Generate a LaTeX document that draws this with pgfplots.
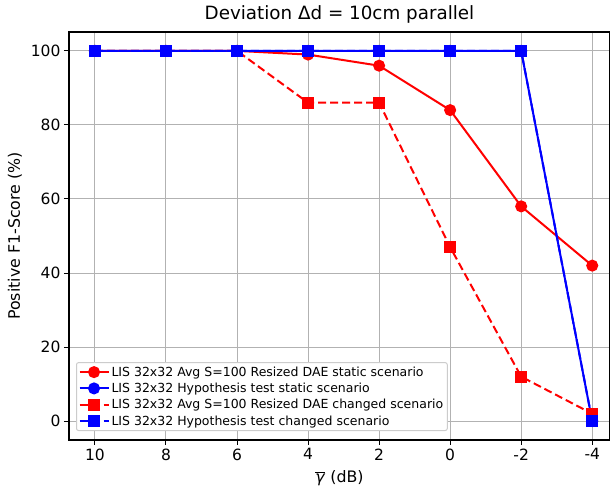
\documentclass[border=0pt]{standalone}
\usepackage{pgfplots}
\pgfplotsset{compat=1.18}
\usepackage{fontspec}
\setmainfont{DejaVu Sans}
\begin{document}
\begin{tikzpicture}
\begin{axis}[
  name=ax,
  width=541pt, height=408pt, scale only axis,
  x dir=reverse,
  xmin=-4.5, xmax=10.73, ymin=-5.1, ymax=105.1,
  xtick={10,8,6,4,2,0,-2,-4},
  ytick={0,20,40,60,80,100},
  grid=major, major grid style={gray!60, line width=1pt},
  tick align=outside, tick pos=left,
  major tick length=5pt,
  tick style={black, line width=1pt},
  axis line style={black, line width=1.1pt},
  /pgf/number format/assume math mode=true,
  ticklabel style={font=\fontsize{15.5}{17}\selectfont},
  title={Deviation Δd = 10cm parallel},
  title style={font=\fontsize{18.3}{20}\selectfont, at={(axis description cs:0.5,1.017)}, anchor=base},
  xlabel={$\overline{\mbox{\textit{γ}}}$ (dB)},
  ylabel={Positive F1-Score (\%)},
  every axis x label/.style={at={(axis description cs:0.5,-0.094)}, anchor=center},
  every axis y label/.style={at={(axis description cs:-0.1,0.5)}, rotate=90, anchor=center},
  label style={font=\fontsize{15.8}{18}\selectfont},
  legend cell align=left,
  legend style={at={(0.013,0.022)}, anchor=south west, font=\fontsize{12.5}{14}\selectfont, draw=gray!40, line width=1pt, rounded corners=2pt, row sep=1.3pt, inner sep=2pt},
  legend image code/.code={\draw[mark repeat=2,mark phase=2, line width=2pt] plot coordinates {(0pt,0pt) (14.5pt,0pt) (29pt,0pt)};},
]
\addplot[red, solid, line width=2pt, mark=*, mark size=5pt] coordinates {(10,100)(8,100)(6,100)(4,99)(2,96)(0,84)(-2,58)(-4,42)};
\addlegendentry{LIS 32x32 Avg S=100 Resized DAE static scenario}
\addplot[blue, solid, line width=2pt, mark=*, mark size=5pt] coordinates {(10,100)(8,100)(6,100)(4,100)(2,100)(0,100)(-2,100)(-4,0)};
\addlegendentry{LIS 32x32 Hypothesis test static scenario}
\addplot[red, dashed, dash pattern=on 8pt off 4pt, line width=2pt, mark=square*, mark size=5pt, mark options={solid}] coordinates {(10,100)(8,100)(6,100)(4,86)(2,86)(0,47)(-2,12)(-4,2)};
\addlegendentry{LIS 32x32 Avg S=100 Resized DAE changed scenario}
\addplot[blue, dashed, dash pattern=on 8pt off 4pt, line width=2pt, mark=square*, mark size=5pt, mark options={solid}] coordinates {(10,100)(8,100)(6,100)(4,100)(2,100)(0,100)(-2,100)(-4,0)};
\addlegendentry{LIS 32x32 Hypothesis test changed scenario}
\end{axis}
\pgfresetboundingbox
\useasboundingbox ([xshift=-69pt,yshift=-49pt]ax.south west) rectangle ([yshift=32pt]ax.north east);
\end{tikzpicture}
\end{document}
